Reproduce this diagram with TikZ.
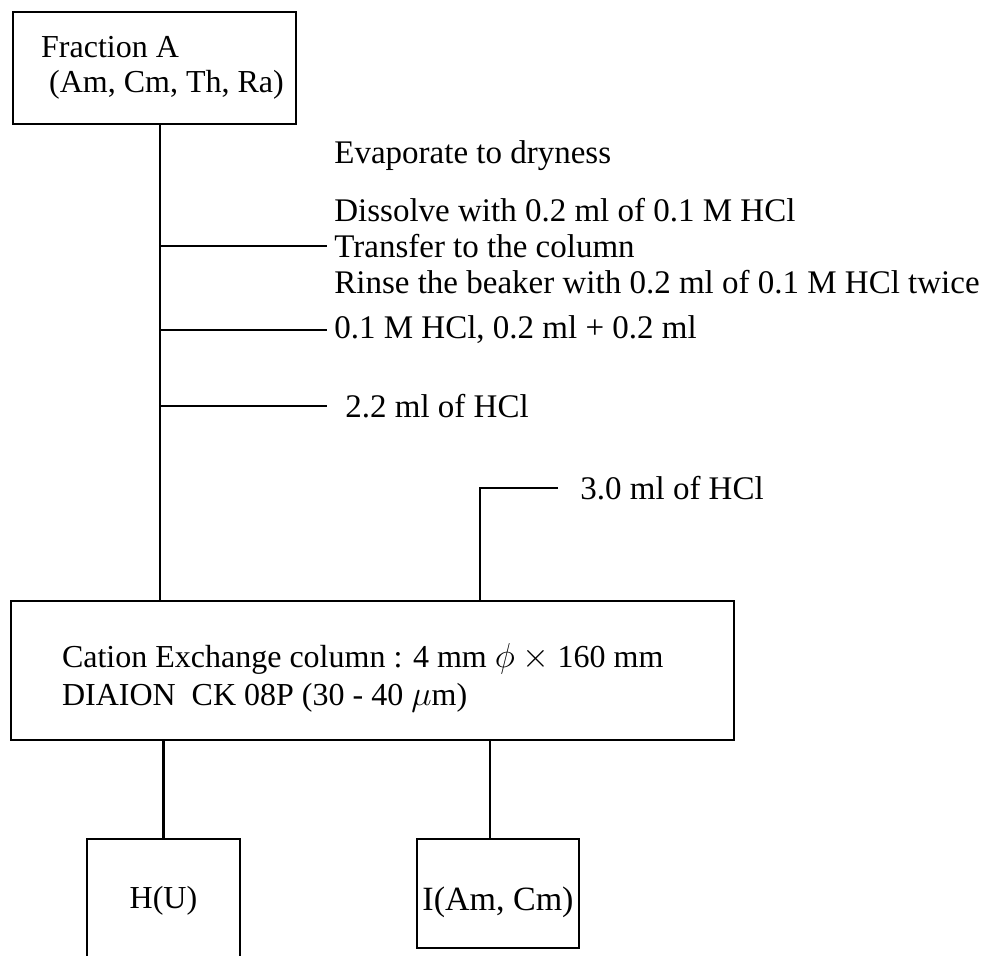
\documentclass[tikz,border=0pt]{standalone}
\usepackage{fontspec}
\setmainfont{Liberation Serif}
\usepackage{amsmath}
\usepackage{tikz}
\usetikzlibrary{positioning}

\begin{document}
\begin{tikzpicture}[x=0.5pt,y=-0.5pt,
    box/.style={draw,line width=1.4pt,inner sep=0pt,align=left,font=\fontsize{16}{17.5}\selectfont},
    note/.style={inner sep=0pt,font=\fontsize{16.5}{19}\selectfont},
    conn/.style={line width=1.1pt}]
    \useasboundingbox (0,0) rectangle (987,956);
    \clip (0,0) rectangle (987,956);

    % boxes
    \node[box,minimum width=141.5pt,minimum height=56pt] (frac) at (154.5,68)
        {\hspace*{8pt}Fraction A\\\hspace*{12pt}(Am, Cm, Th, Ra)};
    \node[box,minimum width=361.5pt,minimum height=69.5pt] (col) at (372.5,670.5) {};
    \node[note,align=left,anchor=west,font=\fontsize{16}{19}\selectfont] (coltext)
        at ([xshift=26pt,yshift=-3.5pt]col.west)
        {Cation Exchange column : 4 mm $\phi$ $\times$ 160 mm\\
         DIAION\ \ CK 08P (30 - 40 $\mu$m)};
    \node[box,minimum width=76.5pt,minimum height=61.5pt] (hout) at (163.5,900.5) {H(U)};
    \node[box,minimum width=81pt,minimum height=54.5pt,font=\fontsize{17}{19}\selectfont,
        text height=18pt,text depth=1pt] (iout) at (498,893.5) {I(Am, Cm)};

    % free ends of the side branches
    \coordinate (b1) at (327,246);
    \coordinate (b2) at (327,330);
    \coordinate (b3) at (327,406);
    \coordinate (b4) at (558,488);
    \coordinate (j4) at (480,488);

    % main line and branches
    \draw[conn] ([xshift=2.75pt]frac.south) coordinate (t0) -- (t0 |- col.north);
    \draw[conn] (t0 |- b1) -- (b1);
    \draw[conn] (t0 |- b2) -- (b2);
    \draw[conn] (t0 |- b3) -- (b3);
    \draw[conn] (b4) -- (j4) -- (j4 |- col.north);
    \draw[conn] (col.south -| hout.north) -- (hout.north);
    \draw[conn] ([xshift=-4pt]iout.north |- col.south) -- ([xshift=-4pt]iout.north);

    % steps
    \node[note,right=3.5pt of b1] (transfer) {Transfer to the column};
    \node[note,anchor=base west] (diss) at ([yshift=18pt]transfer.base west)
        {Dissolve with 0.2 ml of 0.1 M HCl};
    \node[note,anchor=base west] (rinse) at ([yshift=-18pt]transfer.base west)
        {Rinse the beaker with 0.2 ml of 0.1 M HCl twice};
    \node[note,anchor=base west] (evap) at ([yshift=47pt]transfer.base west)
        {Evaporate to dryness};
    \node[note,right=3.5pt of b2] (wash) {0.1 M HCl, 0.2 ml + 0.2 ml};
    \node[note,right=9pt of b3] (elu1) {2.2 ml of HCl};
    \node[note,right=11pt of b4] (elu2) {3.0 ml of HCl};
\end{tikzpicture}
\end{document}
